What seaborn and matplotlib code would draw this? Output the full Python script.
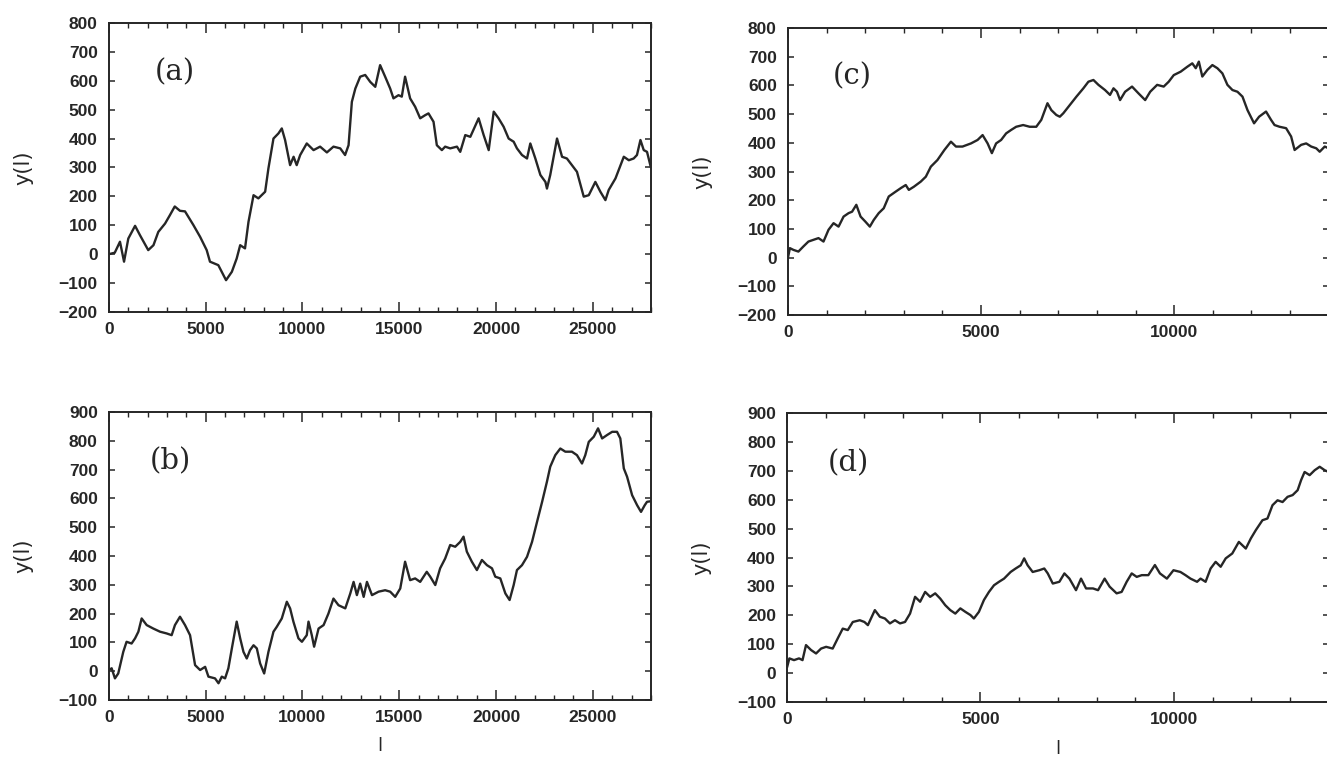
import matplotlib
matplotlib.use("Agg")
import matplotlib.pyplot as plt
from matplotlib.ticker import MultipleLocator
import seaborn as sns

# y(l) traces (l, y)
a_l = [0, 300, 570, 780, 1000, 1350, 1600, 2030, 2300, 2550,
	2900, 3150, 3400, 3670, 3930, 4360, 4710, 5050, 5220, 5650,
	6050, 6350, 6600, 6780, 7030, 7210, 7470, 7720, 8070, 8240,
	8500, 8760, 8930, 9100, 9360, 9540, 9700, 9880, 10220, 10570,
	10910, 11260, 11600, 11950, 12200, 12380, 12550, 12730, 12980, 13240,
	13500, 13760, 14010, 14270, 14530, 14700, 14960, 15130, 15300, 15560,
	15820, 16080, 16340, 16510, 16770, 16940, 17200, 17370, 17630, 17980,
	18150, 18410, 18670, 19100, 19360, 19620, 19880, 20130, 20390, 20650,
	20910, 21080, 21340, 21600, 21770, 22030, 22290, 22550, 22630, 22800,
	23150, 23410, 23660, 23920, 24180, 24530, 24790, 25130, 25390, 25650,
	25820, 26170, 26600, 26860, 27110, 27280, 27460, 27630, 27800, 28000]
a_y = [0, 5, 43, -26, 54, 98, 66, 14, 31, 77,
	106, 135, 165, 150, 148, 101, 60, 14, -26, -38,
	-90, -61, -15, 31, 20, 112, 204, 193, 216, 297,
	400, 418, 435, 395, 308, 337, 308, 343, 383, 360,
	372, 352, 372, 366, 343, 377, 527, 573, 614, 620,
	596, 579, 654, 614, 573, 539, 550, 545, 614, 539,
	510, 470, 481, 487, 458, 377, 360, 372, 366, 372,
	354, 412, 406, 470, 412, 360, 493, 470, 441, 400,
	389, 366, 343, 331, 383, 331, 274, 250, 227, 274,
	400, 337, 331, 308, 285, 199, 204, 250, 216, 187,
	222, 262, 337, 325, 331, 343, 395, 360, 354, 300]

b_l = [0, 140, 310, 480, 740, 910, 1170, 1350, 1520, 1690,
	1950, 2290, 2640, 2980, 3240, 3410, 3670, 3930, 4190, 4450,
	4710, 4970, 5140, 5480, 5660, 5830, 6000, 6170, 6350, 6600,
	6780, 6950, 7120, 7290, 7470, 7640, 7810, 8020, 8240, 8500,
	8670, 8930, 9190, 9360, 9530, 9790, 9970, 10220, 10310, 10480,
	10600, 10830, 11090, 11340, 11600, 11860, 12210, 12470, 12640, 12810,
	12980, 13160, 13330, 13590, 13930, 14270, 14530, 14790, 15050, 15300,
	15560, 15820, 16080, 16420, 16600, 16860, 17110, 17370, 17630, 17890,
	18150, 18320, 18490, 18750, 19010, 19270, 19530, 19790, 19960, 20220,
	20480, 20700, 20910, 21080, 21340, 21600, 21860, 22120, 22380, 22630,
	22800, 23060, 23320, 23580, 23920, 24180, 24440, 24610, 24790, 25050,
	25270, 25480, 25740, 26000, 26250, 26420, 26600, 26770, 27030, 27290,
	27490, 27680, 27800, 28000]
b_y = [4, 10, -25, -8, 67, 102, 96, 114, 137, 183,
	160, 148, 137, 131, 125, 160, 189, 160, 125, 21,
	4, 15, -19, -25, -42, -19, -25, 10, 79, 172,
	114, 67, 44, 73, 90, 79, 27, -8, 67, 137,
	154, 183, 241, 218, 172, 114, 102, 125, 172, 125,
	85, 148, 160, 200, 252, 229, 218, 270, 310, 264,
	304, 258, 310, 264, 276, 281, 276, 258, 287, 380,
	316, 322, 310, 345, 328, 299, 357, 391, 438, 432,
	449, 467, 415, 380, 351, 386, 368, 357, 328, 322,
	270, 247, 299, 351, 368, 397, 449, 519, 588, 658,
	710, 750, 773, 762, 762, 750, 721, 750, 796, 814,
	843, 808, 820, 831, 831, 808, 704, 675, 611, 576,
	553, 576, 588, 590]

c_l = [0, 50, 140, 270, 400, 530, 660, 790, 920, 1050,
	1180, 1310, 1440, 1570, 1660, 1770, 1880, 2000, 2120, 2220,
	2350, 2480, 2610, 2790, 2920, 3050, 3130, 3260, 3440, 3570,
	3700, 3870, 4050, 4220, 4350, 4520, 4740, 4910, 5040, 5170,
	5280, 5390, 5520, 5650, 5780, 5910, 6090, 6260, 6430, 6560,
	6720, 6820, 6950, 7040, 7130, 7300, 7470, 7650, 7780, 7910,
	8040, 8210, 8340, 8430, 8520, 8600, 8730, 8910, 9080, 9250,
	9380, 9560, 9730, 9860, 9990, 10170, 10340, 10470, 10560, 10640,
	10730, 10860, 10990, 11120, 11250, 11380, 11510, 11640, 11770, 11900,
	12070, 12200, 12380, 12510, 12600, 12730, 12900, 13030, 13120, 13290,
	13420, 13550, 13680, 13770, 13900, 14000]
c_y = [0, 33, 27, 21, 39, 56, 62, 68, 56, 97,
	120, 108, 143, 155, 160, 184, 143, 126, 108, 131,
	155, 172, 213, 230, 242, 253, 236, 247, 265, 282,
	317, 340, 375, 404, 387, 387, 398, 410, 427, 398,
	364, 398, 410, 433, 445, 456, 462, 456, 456, 480,
	538, 514, 497, 491, 503, 532, 561, 590, 613, 619,
	602, 584, 567, 590, 578, 549, 578, 596, 572, 549,
	578, 602, 596, 613, 636, 648, 665, 677, 660, 683,
	631, 654, 671, 660, 642, 602, 584, 578, 561, 514,
	468, 491, 509, 480, 462, 456, 451, 422, 375, 393,
	398, 387, 381, 369, 387, 381]

d_l = [0, 60, 180, 310, 400, 490, 620, 750, 880, 1010,
	1180, 1310, 1440, 1570, 1700, 1880, 2000, 2090, 2270, 2400,
	2530, 2660, 2790, 2920, 3050, 3180, 3310, 3440, 3570, 3700,
	3830, 3960, 4090, 4220, 4350, 4480, 4610, 4740, 4830, 4960,
	5090, 5220, 5350, 5480, 5610, 5780, 5910, 6040, 6130, 6220,
	6350, 6520, 6650, 6740, 6870, 7040, 7170, 7300, 7470, 7600,
	7730, 7910, 8040, 8210, 8340, 8520, 8650, 8780, 8910, 9040,
	9170, 9340, 9510, 9640, 9820, 9990, 10170, 10300, 10430, 10600,
	10690, 10820, 10950, 11080, 11210, 11340, 11510, 11680, 11860, 11990,
	12120, 12290, 12420, 12550, 12680, 12810, 12940, 13070, 13200, 13290,
	13380, 13510, 13640, 13770, 13900, 14000]
d_y = [20, 51, 45, 51, 45, 97, 80, 68, 85, 91,
	85, 120, 154, 149, 177, 183, 177, 166, 218, 195,
	189, 172, 183, 172, 177, 206, 264, 247, 281, 264,
	276, 258, 235, 218, 206, 224, 212, 201, 189, 212,
	253, 281, 304, 316, 327, 350, 362, 373, 397, 373,
	350, 356, 362, 345, 310, 316, 345, 327, 287, 327,
	293, 293, 287, 327, 299, 276, 281, 316, 345, 333,
	339, 339, 374, 345, 327, 356, 350, 339, 327, 316,
	327, 316, 362, 385, 368, 397, 414, 454, 431, 466,
	495, 529, 535, 581, 598, 592, 610, 616, 633, 668,
	696, 685, 702, 714, 702, 696]

panel_tags = ["(a)", "(b)", "(c)", "(d)"]
l_max = [28000, 28000, 14000, 14000]
y_lims = [(-200, 800), (-100, 900), (-200, 800), (-100, 900)]

sns.set_theme(style = "ticks")
plt.rcParams["font.family"] = ["Liberation Sans", "DejaVu Sans"]
plt.rcParams["font.weight"] = "bold"
plt.rcParams["axes.unicode_minus"] = True

ink = "#262626"
fig = plt.figure(figsize = (13.27, 7.62), dpi = 100)
fig.patch.set_facecolor("white")

# axes boxes in figure fractions [left, bottom, width, height]
boxes = [[0.0821, 0.5906, 0.4084, 0.3793],
	[0.0821, 0.0814, 0.4084, 0.3780],
	[0.5938, 0.5866, 0.4074, 0.3766],
	[0.5931, 0.0787, 0.4081, 0.3793]]
tag_pos = [(0.085, 0.83), (0.076, 0.83), (0.083, 0.83), (0.076, 0.827)]
series = [(a_l, a_y), (b_l, b_y), (c_l, c_y), (d_l, d_y)]

for i in range(4):
	ax = fig.add_axes(boxes[i])
	l_vals, y_vals = series[i]
	sns.lineplot(x = l_vals, y = y_vals, ax = ax, color = ink, lw = 1.7,
		sort = False, estimator = None)

	ax.set_xlim(0, l_max[i])
	ax.set_ylim(*y_lims[i])
	ax.xaxis.set_major_locator(MultipleLocator(5000))
	ax.xaxis.set_minor_locator(MultipleLocator(1000))
	ax.yaxis.set_major_locator(MultipleLocator(100))

	ax.tick_params(which = "both", direction = "in", top = True, right = True,
		colors = ink, labelsize = 12.5)
	ax.tick_params(which = "major", axis = "x", length = 7, width = 1.1, pad = 7)
	ax.tick_params(which = "minor", axis = "x", length = 3.5, width = 1.0)
	ax.tick_params(which = "major", axis = "y", length = 4.5, width = 1.1, pad = 8)
	for s in ax.spines.values():
		s.set_linewidth(1.4)
		s.set_color(ink)

	ax.set_ylabel("y(l)", fontsize = 15, fontweight = "normal", color = ink,
		family = ["DejaVu Sans"])
	ax.yaxis.set_label_coords(-0.14, 0.5)
	if i in (1, 3):
		ax.set_xlabel("l", fontsize = 13, fontweight = "normal", color = ink,
			family = ["DejaVu Sans"])
		ax.xaxis.set_label_coords(0.5, -0.13)
	else:
		ax.set_xlabel("")

	ax.text(tag_pos[i][0], tag_pos[i][1], panel_tags[i], transform = ax.transAxes,
		ha = "left", va = "center", fontsize = 21, fontweight = "normal",
		family = ["DejaVu Serif"], color = ink)

fig.savefig("out.png", dpi = 100, facecolor = "white")
